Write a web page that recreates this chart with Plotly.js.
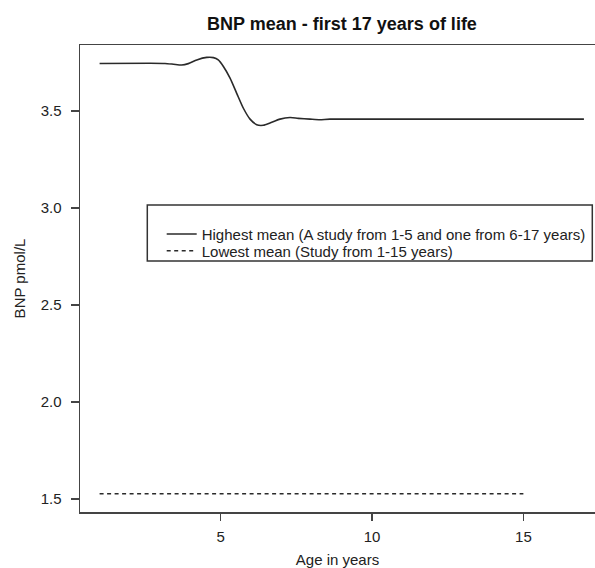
<!DOCTYPE html>
<html>
<head>
<meta charset="utf-8">
<script src="https://cdn.plot.ly/plotly-3.0.1.min.js"></script>
<style>html,body{margin:0;padding:0;background:#fff;}#chart{width:595px;height:568px;}</style>
</head>
<body>
<div id="chart"></div>
<script>
// Highest mean curve (age in years, BNP pmol/L)
var highAge = [1, 2.67, 3.16, 3.44, 3.71, 3.93, 4.21, 4.54, 4.76, 4.92, 5.09, 5.31, 5.53, 5.75, 5.97, 6.19, 6.41, 6.63, 6.96, 7.29, 7.56, 7.95, 8.28, 8.61, 17];
var highBNP = [3.745, 3.746, 3.745, 3.741, 3.737, 3.744, 3.763, 3.776, 3.775, 3.763, 3.729, 3.669, 3.591, 3.514, 3.458, 3.429, 3.426, 3.438, 3.458, 3.466, 3.462, 3.458, 3.455, 3.458, 3.458];
// Lowest mean (study from 1-15 years)
var lowAge = [1, 15];
var lowBNP = [1.527, 1.527];

var xTicks = [5, 10, 15];
var yTicks = [1.5, 2.0, 2.5, 3.0, 3.5];
var seriesNames = ["Highest mean (A study from 1-5 and one from 6-17 years)", "Lowest mean (Study from 1-15 years)"];

var FONT = "Liberation Sans, Arial, sans-serif";
var INK = "#222222";
var AX = "#444444";

// plot area in pixels: x 80..595, y 45..512
function px2paperX(p) { return (p - 80) / 515; }
function px2paperY(p) { return (512 - p) / 467; }

var traces = [
  {x: highAge, y: highBNP, type: "scatter", mode: "lines", name: seriesNames[0], legend: "legend",
   line: {color: "#2a2a2a", width: 1.6, shape: "spline", smoothing: 0.6}},
  {x: lowAge, y: lowBNP, type: "scatter", mode: "lines", name: seriesNames[1], legend: "legend2",
   line: {color: "#2a2a2a", width: 1.6, dash: "4px,3.5px"}}
];

var legendBase = {x: px2paperX(161.7), xanchor: "left", yanchor: "middle",
                  bgcolor: "rgba(0,0,0,0)", borderwidth: 0,
                  font: {family: FONT, size: 15, color: INK}};

var layout = {
  width: 595, height: 568,
  margin: {l: 80, r: 0, t: 45, b: 56, pad: 0},
  paper_bgcolor: "#ffffff", plot_bgcolor: "#ffffff",
  font: {family: FONT, size: 15, color: INK},
  title: {text: "<b>BNP mean - first 17 years of life</b>", x: 342/595, xanchor: "center",
          xref: "container", y: 1 - 23.5/568, yref: "container", yanchor: "middle",
          font: {family: FONT, size: 18, color: "#111111"}},
  xaxis: {range: [0.3525, 17.366], tickvals: xTicks, ticks: "outside", ticklen: 7, tickwidth: 1.5,
          tickcolor: AX, showline: true, mirror: true, linecolor: AX, linewidth: 1.5,
          showgrid: false, zeroline: false, tickfont: {size: 15, color: INK}, ticklabelstandoff: 3,
          title: {text: "Age in years", font: {size: 15, color: INK}, standoff: 14}},
  yaxis: {range: [1.433, 3.840], tickvals: yTicks, tickformat: ".1f", ticks: "outside", ticklen: 8, tickwidth: 1.5,
          tickcolor: AX, showline: true, mirror: false, linecolor: AX, linewidth: 1.5,
          showgrid: false, zeroline: false, tickfont: {size: 15, color: INK}, ticklabelstandoff: 6,
          title: {text: "BNP pmol/L", font: {size: 15, color: INK}, standoff: 11}},
  showlegend: true,
  legend: Object.assign({}, legendBase, {y: px2paperY(234.3)}),
  legend2: Object.assign({}, legendBase, {y: px2paperY(251)}),
  shapes: [
    {type: "rect", xref: "paper", yref: "paper",
     x0: px2paperX(147.3), x1: px2paperX(592.3), y0: px2paperY(261), y1: px2paperY(205),
     line: {color: "#333333", width: 1.5}, fillcolor: "rgba(255,255,255,0)", layer: "below"}
  ]
};

Plotly.newPlot("chart", traces, layout, {displayModeBar: false, staticPlot: true});
</script>
</body>
</html>
